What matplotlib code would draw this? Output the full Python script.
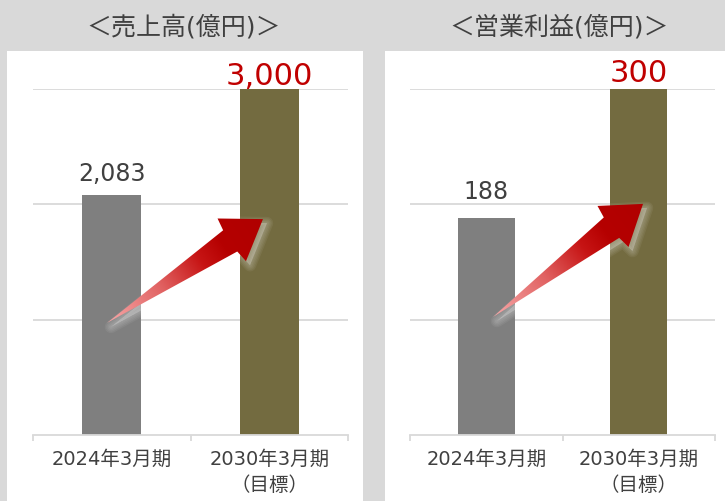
import numpy as np
import matplotlib
matplotlib.use("Agg")
import matplotlib.pyplot as plt
from matplotlib.patches import Rectangle, Polygon
from matplotlib.colors import LinearSegmentedColormap

# DejaVu for latin/digits (close to Meiryo), Noto CJK for kanji
plt.rcParams['font.family'] = ['DejaVu Sans', 'Noto Sans CJK JP']

# data
categories = ['2024年3月期', '2030年3月期\n（目標）']
sales = [2083, 3000]
profit = [188, 300]
sales_labels = ['2,083', '3,000']
profit_labels = ['188', '300']
titles = ['＜売上高(億円)＞', '＜営業利益(億円)＞']

GREY_BG = '#d9d9d9'
TXT = '#404040'
bar_colors = ['#7f7f7f', '#736b40']
label_colors = ['#404040', '#c00000']
label_sizes = [17, 22]

W, H = 725, 501
fig = plt.figure(figsize=(W / 100, H / 100), dpi=100, facecolor=GREY_BG)

def fx(px):
    return px / W

def fy(py):
    return 1 - py / H

# white panels
fig.patches.append(Rectangle((fx(7), 0), fx(363) - fx(7), fy(51), transform=fig.transFigure,
                             facecolor='white', edgecolor='none', zorder=-5))
fig.patches.append(Rectangle((fx(385), 0), 1 - fx(385), fy(51), transform=fig.transFigure,
                             facecolor='white', edgecolor='none', zorder=-5))

fig.text(fx(184), fy(27), titles[0], ha='center', va='center', fontsize=18, color=TXT)
fig.text(fx(559), fy(27), titles[1], ha='center', va='center', fontsize=18, color=TXT)

ax1 = fig.add_axes([fx(33), fy(435), fx(348) - fx(33), fy(89) - fy(435)])
ax2 = fig.add_axes([fx(410), fy(435), fx(715) - fx(410), fy(89) - fy(435)])


def setup(ax, vals, labels, top, step, offsets):
    ax.set_facecolor('none')
    x = np.arange(len(vals))
    ax.bar(x, vals, width=0.375, color=bar_colors, zorder=2)
    ax.set_xlim(-0.5, len(vals) - 0.5)
    ax.set_ylim(0, top)
    ax.set_yticks(np.arange(step, top + 1, step))
    ax.yaxis.grid(True, color=GREY_BG, linewidth=1.3, zorder=0)
    ax.set_axisbelow(True)
    ax.tick_params(axis='y', length=0, labelleft=False)
    for s in ['top', 'left', 'right']:
        ax.spines[s].set_visible(False)
    ax.spines['bottom'].set_color(GREY_BG)
    ax.spines['bottom'].set_linewidth(1.3)
    ax.set_xticks(x)
    ax.set_xticklabels(categories, fontsize=14, color=TXT, linespacing=1.45)
    ax.tick_params(axis='x', which='major', length=0, pad=11)
    ax.set_xticks(np.arange(-0.5, len(vals), 1.0), minor=True)
    ax.tick_params(axis='x', which='minor', length=4, width=1.3, color=GREY_BG, direction='out')
    for i, v in enumerate(vals):
        ax.annotate(labels[i], (x[i], v), xytext=(0, offsets[i]), textcoords='offset points',
                    ha='center', va='center', fontsize=label_sizes[i], color=label_colors[i],
                    annotation_clip=False)


setup(ax1, sales, sales_labels, 3000, 1000, [15, 9])
setup(ax2, profit, profit_labels, 300, 100, [19, 11])

# red gradient arrows on an overlay in pixel coordinates
ov = fig.add_axes([0, 0, 1, 1], zorder=5)
ov.set_xlim(0, W)
ov.set_ylim(0, H)
ov.axis('off')
ov.patch.set_alpha(0)

cmap = LinearSegmentedColormap.from_list('redarrow', [
    (0.0, (0.97, 0.66, 0.66)),
    (0.35, (0.88, 0.38, 0.38)),
    (0.6, (0.78, 0.08, 0.08)),
    (0.75, (0.71, 0.0, 0.0)),
    (1.0, (0.69, 0.0, 0.0)),
])

# arrow tail / tip in axes fraction
arrows = [(ax1, (0.235, 0.324), (0.730, 0.624)),
          (ax2, (0.272, 0.341), (0.764, 0.668))]

# shape in local frame (s along arrow, t across)
shape = [(0, 0), (0.79, 0.068), (0.80, 0.137), (1.0, 0.0), (0.80, -0.137), (0.79, -0.068)]

for ax, tail, tip in arrows:
    p0 = np.array(ax.transAxes.transform(tail)) * W / fig.bbox.width
    p1 = np.array(ax.transAxes.transform(tip)) * W / fig.bbox.width
    d = p1 - p0
    L = np.hypot(*d)
    u = d / L
    n = np.array([-u[1], u[0]])
    pts = np.array([p0 + s * L * u + t * L * n for s, t in shape])

    # soft light glow below the arrow
    for k in range(5):
        sh = Polygon(pts + np.array([4, -4]), closed=True, facecolor='white', edgecolor='white',
                     linewidth=1 + 2 * k, alpha=0.06, joinstyle='round', zorder=1)
        ov.add_patch(sh)

    poly = Polygon(pts, closed=True, facecolor='none', edgecolor='none', zorder=3)
    ov.add_patch(poly)
    xmin, ymin = pts.min(axis=0) - 2
    xmax, ymax = pts.max(axis=0) + 2
    gx, gy = np.meshgrid(np.linspace(xmin, xmax, 200), np.linspace(ymin, ymax, 200))
    sval = ((gx - p0[0]) * u[0] + (gy - p0[1]) * u[1]) / L
    im = ov.imshow(sval, extent=(xmin, xmax, ymin, ymax), origin='lower', cmap=cmap,
                   vmin=0, vmax=1, interpolation='bilinear', zorder=3, aspect='auto')
    im.set_clip_path(poly)

ov.set_xlim(0, W)
ov.set_ylim(0, H)

fig.savefig('out.png', dpi=100, facecolor=GREY_BG)
